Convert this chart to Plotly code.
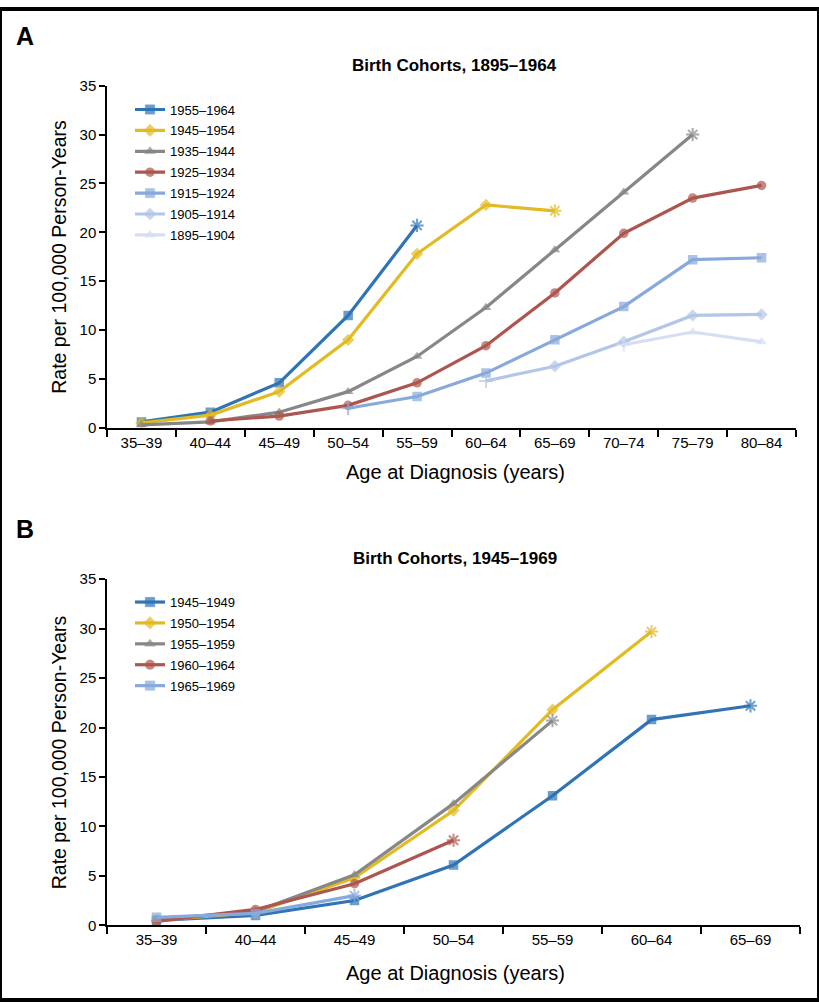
import plotly.graph_objects as go

# ---------------- data ----------------
ages_a = ["35–39", "40–44", "45–49", "50–54", "55–59", "60–64", "65–69", "70–74", "75–79", "80–84"]
names_a = ["1955–1964", "1945–1954", "1935–1944", "1925–1934", "1915–1924", "1905–1914", "1895–1904"]
c1955_1964 = [0.6, 1.6, 4.6, 11.5, 20.7, None, None, None, None, None]
c1945_1954 = [0.5, 1.3, 3.7, 9.0, 17.8, 22.8, 22.2, None, None, None]
c1935_1944 = [0.3, 0.6, 1.6, 3.7, 7.3, 12.3, 18.2, 24.1, 30.0, None]
c1925_1934 = [None, 0.7, 1.2, 2.3, 4.6, 8.4, 13.8, 19.9, 23.5, 24.8]
c1915_1924 = [None, None, None, 2.0, 3.2, 5.6, 9.0, 12.4, 17.2, 17.4]
c1905_1914 = [None, None, None, None, None, 4.8, 6.3, 8.8, 11.5, 11.6]
c1895_1904 = [None, None, None, None, None, None, None, 8.5, 9.8, 8.8]
series_a = [c1955_1964, c1945_1954, c1935_1944, c1925_1934, c1915_1924, c1905_1914, c1895_1904]

ages_b = ["35–39", "40–44", "45–49", "50–54", "55–59", "60–64", "65–69"]
names_b = ["1945–1949", "1950–1954", "1955–1959", "1960–1964", "1965–1969"]
c1945_1949 = [0.5, 1.0, 2.5, 6.1, 13.1, 20.8, 22.2]
c1950_1954 = [0.5, 1.3, 4.8, 11.6, 21.8, 29.7, None]
c1955_1959 = [0.6, 1.4, 5.1, 12.3, 20.7, None, None]
c1960_1964 = [0.4, 1.6, 4.2, 8.6, None, None, None]
c1965_1969 = [0.8, 1.2, 3.0, None, None, None, None]
series_b = [c1945_1949, c1950_1954, c1955_1959, c1960_1964, c1965_1969]

y_ticks = [0, 5, 10, 15, 20, 25, 30, 35]

# ---------------- styles ----------------
colors_a = ["#2F74B5", "#E2BA22", "#878787", "#AD554E", "#88A9DB", "#B4C6E8", "#D5DEF2"]
symbols_a = ["square", "diamond", "triangle-up", "circle", "square", "diamond", "triangle-up"]
end_star_a = [True, True, True, False, False, False, False]
start_plus_a = [False, False, False, False, True, True, True]

colors_b = ["#2F74B5", "#E2BA22", "#878787", "#AD554E", "#88A9DB"]
symbols_b = ["square", "diamond", "triangle-up", "circle", "square"]
end_star_b = [True, True, True, True, True]
start_plus_b = [False, False, False, False, False]

FONT = "Liberation Sans, Arial, sans-serif"
W, H = 819, 1008

def px_x(v):
    return v / W

def px_y(v):
    return 1 - v / H

fig = go.Figure()

def add_series(x, names, series, colors, symbols, stars, pluses, xa, ya, legend, tag):
    for name, vals, col, sym, star, plus in zip(names, series, colors, symbols, stars, pluses):
        idx = [i for i, v in enumerate(vals) if v is not None]
        syms, sizes, lw = [], [], []
        for i in range(len(vals)):
            s, sz, w = sym, 9.5, 0
            if i == idx[-1] and star:
                s, sz, w = "asterisk-open", 11, 2
            elif i == idx[0] and plus:
                s, sz, w = "cross-thin-open", 10, 2
            syms.append(s); sizes.append(sz); lw.append(w)
        fig.add_trace(go.Scatter(
            x=x, y=vals, name=name, mode="lines+markers",
            line=dict(color=col, width=3.2),
            marker=dict(symbol=syms, size=sizes, color=col,
                        line=dict(color=col, width=lw)),
            xaxis=xa, yaxis=ya, legend=legend, connectgaps=False,
            legendgroup=tag + name,
        ))

add_series(ages_a, names_a, series_a, colors_a, symbols_a, end_star_a, start_plus_a, "x", "y", "legend", "a")
add_series(ages_b, names_b, series_b, colors_b, symbols_b, end_star_b, start_plus_b, "x2", "y2", "legend2", "b")

axis_common = dict(
    showline=True, linecolor="black", linewidth=1.5, ticks="outside",
    tickcolor="black", tickwidth=1.5, showgrid=False, zeroline=False,
    tickfont=dict(family=FONT, size=15, color="black"),
)

legend_common = dict(xanchor="left", yanchor="top", bgcolor="rgba(0,0,0,0)",
                     font=dict(family=FONT, size=13, color="black"),
                     itemwidth=30, tracegroupgap=1)

fig.update_layout(
    width=W, height=H, margin=dict(l=0, r=0, t=0, b=0),
    paper_bgcolor="white", plot_bgcolor="white",
    showlegend=True,
    xaxis=dict(domain=[px_x(107), px_x(796)], anchor="y", type="category",
               categoryorder="array", categoryarray=ages_a,
               tickson="boundaries", ticklen=7, range=[-0.5, len(ages_a) - 0.5], **axis_common),
    yaxis=dict(domain=[px_y(426), px_y(78)], anchor="x", range=[0, 35],
               tickvals=y_ticks, ticklen=6, **axis_common),
    xaxis2=dict(domain=[px_x(107), px_x(800)], anchor="y2", type="category",
                categoryorder="array", categoryarray=ages_b,
                tickson="boundaries", ticklen=7, range=[-0.5, len(ages_b) - 0.5], **axis_common),
    yaxis2=dict(domain=[px_y(932), px_y(580)], anchor="x2", range=[0, 35],
                tickvals=y_ticks, ticklen=6, **axis_common),
    legend=dict(x=px_x(130), y=px_y(87), **legend_common),
    legend2=dict(x=px_x(130), y=px_y(588), **legend_common),
)

ann = []
def text(x, y, s, size, bold=False, angle=0, xanchor="center"):
    ann.append(dict(x=px_x(x), y=px_y(y), xref="paper", yref="paper", text=("<b>%s</b>" % s) if bold else s,
                    showarrow=False, xanchor=xanchor, yanchor="middle", textangle=angle,
                    font=dict(family=FONT, size=size, color="black")))

text(14, 27, "A", 25, bold=True, xanchor="left")
text(14, 529, "B", 25, bold=True, xanchor="left")
text(454, 57, "Birth Cohorts, 1895–1964", 17, bold=True)
text(455, 559, "Birth Cohorts, 1945–1969", 17, bold=True)
text(59, 252, "Rate per 100,000 Person-Years", 19.5, angle=-90)
text(59, 756, "Rate per 100,000 Person-Years", 19.5, angle=-90)
text(455, 471, "Age at Diagnosis (years)", 20)
text(455, 981, "Age at Diagnosis (years)", 20)
fig.update_layout(annotations=ann)

fig.add_shape(type="rect", xref="paper", yref="paper", x0=0, x1=1, y0=0, y1=1,
              line=dict(color="black", width=4))

fig.write_html(
    "out.html",
    config={"displayModeBar": False, "responsive": False},
    post_script=(
        "var d=document.getElementById('{plot_id}');"
        "var de=document.documentElement, b=document.body;"
        "de.style.margin='0';de.style.padding='0';de.style.overflow='hidden';"
        "b.style.margin='0';b.style.padding='0';b.style.overflow='hidden';"
        "b.insertBefore(d, b.firstChild);"
        "Array.prototype.slice.call(b.childNodes).forEach(function(k){if(k!==d){b.removeChild(k);}});"
        "d.style.display='block';"
    ),
)
